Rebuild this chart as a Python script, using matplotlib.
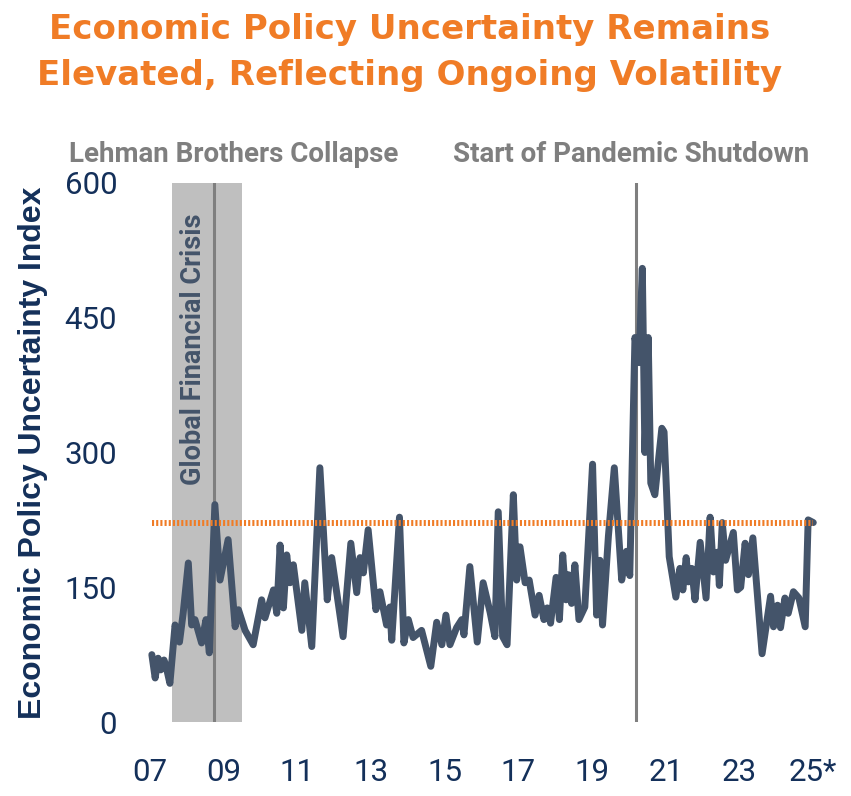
import matplotlib
matplotlib.use("Agg")
from matplotlib import pyplot as plt

# US Economic Policy Uncertainty index (decimal years)
dates = [2007.05, 2007.14, 2007.22, 2007.29, 2007.38, 2007.43, 2007.54, 2007.68, 2007.80, 2007.90,
         2008.04, 2008.13, 2008.22, 2008.40, 2008.52, 2008.61, 2008.76, 2008.90, 2009.12, 2009.31,
         2009.40, 2009.58, 2009.80, 2010.03, 2010.12, 2010.35, 2010.44, 2010.53, 2010.62, 2010.71,
         2010.80, 2010.89, 2011.12, 2011.20, 2011.39, 2011.61, 2011.81, 2011.93, 2012.24, 2012.45,
         2012.61, 2012.70, 2012.79, 2012.92, 2013.13, 2013.24, 2013.42, 2013.51, 2013.56, 2013.77,
         2013.89, 2014.01, 2014.14, 2014.37, 2014.62, 2014.78, 2014.92, 2015.03, 2015.14, 2015.32,
         2015.46, 2015.52, 2015.68, 2015.88, 2016.04, 2016.23, 2016.36, 2016.45, 2016.57, 2016.69,
         2016.86, 2016.95, 2017.04, 2017.18, 2017.29, 2017.45, 2017.56, 2017.69, 2017.78, 2017.87,
         2018.02, 2018.11, 2018.20, 2018.29, 2018.35, 2018.44, 2018.53, 2018.64, 2018.80, 2019.01,
         2019.12, 2019.21, 2019.28, 2019.44, 2019.60, 2019.80, 2019.93, 2020.02, 2020.16, 2020.27,
         2020.36, 2020.43, 2020.52, 2020.59, 2020.70, 2020.89, 2020.95, 2021.09, 2021.27, 2021.38,
         2021.46, 2021.55, 2021.61, 2021.70, 2021.79, 2021.93, 2022.09, 2022.20, 2022.29, 2022.40,
         2022.45, 2022.53, 2022.62, 2022.83, 2022.94, 2023.03, 2023.15, 2023.24, 2023.36, 2023.61,
         2023.84, 2023.92, 2024.03, 2024.11, 2024.23, 2024.32, 2024.46, 2024.61, 2024.78, 2024.86,
         2025.00]
epu = [75, 49, 71, 58, 69, 63, 43, 108, 89, 121,
       177, 108, 114, 88, 114, 77, 242, 158, 203, 106,
       125, 102, 86, 136, 116, 147, 121, 197, 127, 186,
       155, 175, 102, 155, 84, 283, 136, 183, 95, 199,
       144, 183, 166, 214, 125, 145, 108, 128, 91, 228,
       88, 114, 94, 102, 62, 111, 86, 119, 86, 105,
       114, 97, 173, 89, 155, 122, 95, 234, 95, 86,
       253, 158, 195, 155, 158, 119, 141, 114, 127, 110,
       161, 114, 186, 136, 164, 132, 175, 114, 128, 287,
       119, 180, 108, 207, 283, 158, 190, 163, 428, 400,
       505, 300, 428, 266, 253, 327, 323, 184, 139, 171,
       147, 183, 156, 171, 136, 200, 138, 228, 167, 189,
       152, 222, 180, 211, 147, 150, 199, 164, 205, 76,
       140, 106, 130, 105, 138, 121, 145, 138, 106, 225,
       222]

current_level = 222
gfc_start, gfc_end = 2007.6, 2009.5
lehman = 2008.74
pandemic = 2020.19

tick_years = [2007, 2009, 2011, 2013, 2015, 2017, 2019, 2021, 2023, 2025]
tick_labels = ["07", "09", "11", "13", "15", "17", "19", "21", "23", "25*"]
y_ticks = [0, 150, 300, 450, 600]

navy = "#14305A"
slate = "#44546A"
orange = "#F07C26"
grey = "#7F7F7F"

fig = plt.figure(figsize=(8.51, 7.96), dpi=100)
ax = fig.add_axes([145 / 851, 74 / 796, 680 / 851, 539 / 796])

ax.axvspan(gfc_start, gfc_end, color="#BFBFBF", lw=0, zorder=0)
ax.axvline(lehman, color=grey, lw=2.2, zorder=1)
ax.axvline(pandemic, color=grey, lw=2.2, zorder=1)
ax.plot(dates, epu, color=slate, lw=5.0, solid_joinstyle="round",
        solid_capstyle="round", zorder=2)
ax.hlines(current_level, dates[0], dates[-1], color=orange, lw=4.3,
          linestyles=(0, (0.35, 0.35)), zorder=3)

ax.text(2008.18, 415, "Global Financial Crisis", rotation=90, ha="center", va="center",
        color=slate, fontsize=19.5, fontweight="bold", family="Roboto", zorder=4)

ax.set_xlim(2007 - 5 / 36.85, 2007 + 675 / 36.85)
ax.set_ylim(0, 600)
ax.set_xticks(tick_years)
ax.set_xticklabels(tick_labels)
ax.set_yticks(y_ticks)
ax.tick_params(length=0, labelsize=22.5, labelcolor=navy)
ax.tick_params(axis="x", pad=26)
ax.tick_params(axis="y", pad=20)
for lab in ax.get_xticklabels() + ax.get_yticklabels():
    lab.set_family("Roboto")
for s in ax.spines.values():
    s.set_visible(False)

ax.set_ylabel("Economic Policy Uncertainty Index", fontsize=23, fontweight="bold",
              color=navy, family="Liberation Sans", labelpad=12)

fig.text(234 / 851, 1 - 155 / 796, "Lehman Brothers Collapse", ha="center", va="center",
         color=grey, fontsize=20, fontweight="bold", family="Roboto")
fig.text(631 / 851, 1 - 155 / 796, "Start of Pandemic Shutdown", ha="center", va="center",
         color=grey, fontsize=20, fontweight="bold", family="Roboto")

fig.text(410 / 851, 1 - 30 / 796, "Economic Policy Uncertainty Remains", ha="center",
         va="center", color=orange, fontsize=24.5, fontweight="bold", family="DejaVu Sans")
fig.text(410 / 851, 1 - 76 / 796, "Elevated, Reflecting Ongoing Volatility", ha="center",
         va="center", color=orange, fontsize=24.5, fontweight="bold", family="DejaVu Sans")

fig.savefig("out.png", dpi=100)
